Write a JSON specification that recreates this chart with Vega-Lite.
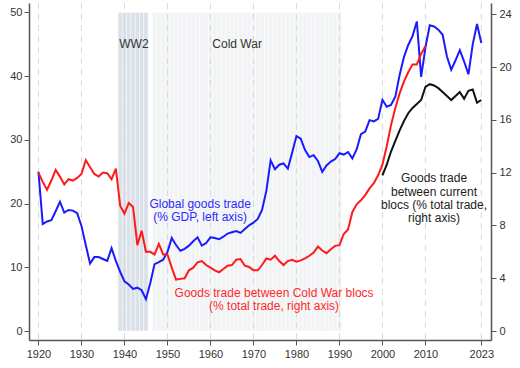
{
  "$schema": "https://vega.github.io/schema/vega-lite/v6.json",
  "width": 462,
  "height": 337,
  "autosize": {"type": "none"},
  "padding": {"left": 29, "top": 3, "right": 29, "bottom": 28},
  "background": "white",
  "config": {
    "view": {"stroke": null},
    "axis": {
      "labelFont": "Liberation Sans",
      "labelFontSize": 11,
      "labelColor": "#333333",
      "domainColor": "#555555",
      "domainWidth": 1.5,
      "tickColor": "#555555",
      "tickSize": 5,
      "tickWidth": 1,
      "grid": false,
      "title": null
    },
    "text": {"font": "Liberation Sans", "fontSize": 12}
  },
  "datasets": {
    "shade": [
      {"period": "WW2", "start": 1938.5, "end": 1939.5},
      {"period": "WW2", "start": 1939.5, "end": 1940.5},
      {"period": "WW2", "start": 1940.5, "end": 1941.5},
      {"period": "WW2", "start": 1941.5, "end": 1942.5},
      {"period": "WW2", "start": 1942.5, "end": 1943.5},
      {"period": "WW2", "start": 1943.5, "end": 1944.5},
      {"period": "WW2", "start": 1944.5, "end": 1945.5},
      {"period": "Cold War", "start": 1946.5, "end": 1947.5},
      {"period": "Cold War", "start": 1947.5, "end": 1948.5},
      {"period": "Cold War", "start": 1948.5, "end": 1949.5},
      {"period": "Cold War", "start": 1949.5, "end": 1950.5},
      {"period": "Cold War", "start": 1950.5, "end": 1951.5},
      {"period": "Cold War", "start": 1951.5, "end": 1952.5},
      {"period": "Cold War", "start": 1952.5, "end": 1953.5},
      {"period": "Cold War", "start": 1953.5, "end": 1954.5},
      {"period": "Cold War", "start": 1954.5, "end": 1955.5},
      {"period": "Cold War", "start": 1955.5, "end": 1956.5},
      {"period": "Cold War", "start": 1956.5, "end": 1957.5},
      {"period": "Cold War", "start": 1957.5, "end": 1958.5},
      {"period": "Cold War", "start": 1958.5, "end": 1959.5},
      {"period": "Cold War", "start": 1959.5, "end": 1960.5},
      {"period": "Cold War", "start": 1960.5, "end": 1961.5},
      {"period": "Cold War", "start": 1961.5, "end": 1962.5},
      {"period": "Cold War", "start": 1962.5, "end": 1963.5},
      {"period": "Cold War", "start": 1963.5, "end": 1964.5},
      {"period": "Cold War", "start": 1964.5, "end": 1965.5},
      {"period": "Cold War", "start": 1965.5, "end": 1966.5},
      {"period": "Cold War", "start": 1966.5, "end": 1967.5},
      {"period": "Cold War", "start": 1967.5, "end": 1968.5},
      {"period": "Cold War", "start": 1968.5, "end": 1969.5},
      {"period": "Cold War", "start": 1969.5, "end": 1970.5},
      {"period": "Cold War", "start": 1970.5, "end": 1971.5},
      {"period": "Cold War", "start": 1971.5, "end": 1972.5},
      {"period": "Cold War", "start": 1972.5, "end": 1973.5},
      {"period": "Cold War", "start": 1973.5, "end": 1974.5},
      {"period": "Cold War", "start": 1974.5, "end": 1975.5},
      {"period": "Cold War", "start": 1975.5, "end": 1976.5},
      {"period": "Cold War", "start": 1976.5, "end": 1977.5},
      {"period": "Cold War", "start": 1977.5, "end": 1978.5},
      {"period": "Cold War", "start": 1978.5, "end": 1979.5},
      {"period": "Cold War", "start": 1979.5, "end": 1980.5},
      {"period": "Cold War", "start": 1980.5, "end": 1981.5},
      {"period": "Cold War", "start": 1981.5, "end": 1982.5},
      {"period": "Cold War", "start": 1982.5, "end": 1983.5},
      {"period": "Cold War", "start": 1983.5, "end": 1984.5},
      {"period": "Cold War", "start": 1984.5, "end": 1985.5},
      {"period": "Cold War", "start": 1985.5, "end": 1986.5},
      {"period": "Cold War", "start": 1986.5, "end": 1987.5},
      {"period": "Cold War", "start": 1987.5, "end": 1988.5},
      {"period": "Cold War", "start": 1988.5, "end": 1989.5},
      {"period": "Cold War", "start": 1989.5, "end": 1990.5}
    ],
    "ticks": [
      {"year": 1920}, {"year": 1930}, {"year": 1940}, {"year": 1950}, {"year": 1960},
      {"year": 1970}, {"year": 1980}, {"year": 1990}, {"year": 2000}, {"year": 2010}, {"year": 2023}
    ],
    "global": [
      {"year": 1920, "value": 25.0}, {"year": 1921, "value": 16.8}, {"year": 1922, "value": 17.2},
      {"year": 1923, "value": 17.4}, {"year": 1924, "value": 18.8}, {"year": 1925, "value": 20.3},
      {"year": 1926, "value": 18.6}, {"year": 1927, "value": 19.0}, {"year": 1928, "value": 18.9},
      {"year": 1929, "value": 18.5}, {"year": 1930, "value": 16.5}, {"year": 1931, "value": 13.5},
      {"year": 1932, "value": 10.6}, {"year": 1933, "value": 11.6}, {"year": 1934, "value": 11.6},
      {"year": 1935, "value": 11.3}, {"year": 1936, "value": 11.0}, {"year": 1937, "value": 13.0},
      {"year": 1938, "value": 11.0}, {"year": 1939, "value": 9.3}, {"year": 1940, "value": 7.8},
      {"year": 1941, "value": 7.3}, {"year": 1942, "value": 6.6}, {"year": 1943, "value": 6.8},
      {"year": 1944, "value": 6.4}, {"year": 1945, "value": 5.0}, {"year": 1946, "value": 7.5},
      {"year": 1947, "value": 10.5}, {"year": 1948, "value": 10.8}, {"year": 1949, "value": 11.2},
      {"year": 1950, "value": 12.4}, {"year": 1951, "value": 14.6}, {"year": 1952, "value": 13.5},
      {"year": 1953, "value": 12.6}, {"year": 1954, "value": 12.9}, {"year": 1955, "value": 13.4},
      {"year": 1956, "value": 14.1}, {"year": 1957, "value": 14.7}, {"year": 1958, "value": 13.4},
      {"year": 1959, "value": 13.8}, {"year": 1960, "value": 14.7}, {"year": 1961, "value": 14.6},
      {"year": 1962, "value": 14.4}, {"year": 1963, "value": 14.8}, {"year": 1964, "value": 15.3},
      {"year": 1965, "value": 15.5}, {"year": 1966, "value": 15.7}, {"year": 1967, "value": 15.4},
      {"year": 1968, "value": 16.0}, {"year": 1969, "value": 16.6}, {"year": 1970, "value": 17.0},
      {"year": 1971, "value": 17.6}, {"year": 1972, "value": 19.0}, {"year": 1973, "value": 22.0},
      {"year": 1974, "value": 26.8}, {"year": 1975, "value": 25.4}, {"year": 1976, "value": 26.1},
      {"year": 1977, "value": 26.3}, {"year": 1978, "value": 25.5}, {"year": 1979, "value": 28.0},
      {"year": 1980, "value": 30.6}, {"year": 1981, "value": 30.2}, {"year": 1982, "value": 28.4},
      {"year": 1983, "value": 27.3}, {"year": 1984, "value": 27.6}, {"year": 1985, "value": 26.7},
      {"year": 1986, "value": 25.0}, {"year": 1987, "value": 26.0}, {"year": 1988, "value": 26.6},
      {"year": 1989, "value": 27.0}, {"year": 1990, "value": 27.9}, {"year": 1991, "value": 27.7},
      {"year": 1992, "value": 28.1}, {"year": 1993, "value": 27.1}, {"year": 1994, "value": 28.5},
      {"year": 1995, "value": 30.9}, {"year": 1996, "value": 31.3}, {"year": 1997, "value": 33.1},
      {"year": 1998, "value": 32.9}, {"year": 1999, "value": 33.3}, {"year": 2000, "value": 36.3},
      {"year": 2001, "value": 35.2}, {"year": 2002, "value": 35.5}, {"year": 2003, "value": 36.8},
      {"year": 2004, "value": 40.2}, {"year": 2005, "value": 43.0}, {"year": 2006, "value": 44.9},
      {"year": 2007, "value": 46.3}, {"year": 2008, "value": 48.6}, {"year": 2009, "value": 39.9},
      {"year": 2010, "value": 44.5}, {"year": 2011, "value": 48.0}, {"year": 2012, "value": 47.8},
      {"year": 2013, "value": 47.3}, {"year": 2014, "value": 46.5}, {"year": 2015, "value": 43.1},
      {"year": 2016, "value": 41.0}, {"year": 2017, "value": 42.5}, {"year": 2018, "value": 44.1},
      {"year": 2019, "value": 42.3}, {"year": 2020, "value": 40.3}, {"year": 2021, "value": 45.0},
      {"year": 2022, "value": 48.2}, {"year": 2023, "value": 45.2}
    ],
    "blocs": [
      {"series": "cold", "year": 1920, "value": 12.0}, {"series": "cold", "year": 1921, "value": 11.3},
      {"series": "cold", "year": 1922, "value": 10.7}, {"series": "cold", "year": 1923, "value": 11.4},
      {"series": "cold", "year": 1924, "value": 12.2}, {"series": "cold", "year": 1925, "value": 11.7},
      {"series": "cold", "year": 1926, "value": 11.1}, {"series": "cold", "year": 1927, "value": 11.5},
      {"series": "cold", "year": 1928, "value": 11.4}, {"series": "cold", "year": 1929, "value": 11.6},
      {"series": "cold", "year": 1930, "value": 11.9}, {"series": "cold", "year": 1931, "value": 12.95},
      {"series": "cold", "year": 1932, "value": 12.4}, {"series": "cold", "year": 1933, "value": 11.9},
      {"series": "cold", "year": 1934, "value": 11.7}, {"series": "cold", "year": 1935, "value": 12.0},
      {"series": "cold", "year": 1936, "value": 11.95}, {"series": "cold", "year": 1937, "value": 11.5},
      {"series": "cold", "year": 1938, "value": 12.3}, {"series": "cold", "year": 1939, "value": 9.5},
      {"series": "cold", "year": 1940, "value": 8.9}, {"series": "cold", "year": 1941, "value": 9.7},
      {"series": "cold", "year": 1942, "value": 9.4}, {"series": "cold", "year": 1943, "value": 6.5},
      {"series": "cold", "year": 1944, "value": 7.6}, {"series": "cold", "year": 1945, "value": 6.0},
      {"series": "cold", "year": 1946, "value": 6.0}, {"series": "cold", "year": 1947, "value": 5.8},
      {"series": "cold", "year": 1948, "value": 6.6}, {"series": "cold", "year": 1949, "value": 5.8},
      {"series": "cold", "year": 1950, "value": 5.8}, {"series": "cold", "year": 1951, "value": 4.8},
      {"series": "cold", "year": 1952, "value": 3.9}, {"series": "cold", "year": 1953, "value": 3.95},
      {"series": "cold", "year": 1954, "value": 4.0}, {"series": "cold", "year": 1955, "value": 4.6},
      {"series": "cold", "year": 1956, "value": 4.8}, {"series": "cold", "year": 1957, "value": 5.2},
      {"series": "cold", "year": 1958, "value": 5.3}, {"series": "cold", "year": 1959, "value": 5.0},
      {"series": "cold", "year": 1960, "value": 4.8}, {"series": "cold", "year": 1961, "value": 4.6},
      {"series": "cold", "year": 1962, "value": 4.45}, {"series": "cold", "year": 1963, "value": 4.7},
      {"series": "cold", "year": 1964, "value": 4.95}, {"series": "cold", "year": 1965, "value": 5.0},
      {"series": "cold", "year": 1966, "value": 5.4}, {"series": "cold", "year": 1967, "value": 5.45},
      {"series": "cold", "year": 1968, "value": 4.95}, {"series": "cold", "year": 1969, "value": 4.85},
      {"series": "cold", "year": 1970, "value": 4.6}, {"series": "cold", "year": 1971, "value": 4.6},
      {"series": "cold", "year": 1972, "value": 5.0}, {"series": "cold", "year": 1973, "value": 5.5},
      {"series": "cold", "year": 1974, "value": 5.4}, {"series": "cold", "year": 1975, "value": 5.7},
      {"series": "cold", "year": 1976, "value": 5.3}, {"series": "cold", "year": 1977, "value": 5.0},
      {"series": "cold", "year": 1978, "value": 5.3}, {"series": "cold", "year": 1979, "value": 5.4},
      {"series": "cold", "year": 1980, "value": 5.25}, {"series": "cold", "year": 1981, "value": 5.35},
      {"series": "cold", "year": 1982, "value": 5.5}, {"series": "cold", "year": 1983, "value": 5.7},
      {"series": "cold", "year": 1984, "value": 5.95}, {"series": "cold", "year": 1985, "value": 6.4},
      {"series": "cold", "year": 1986, "value": 6.1}, {"series": "cold", "year": 1987, "value": 5.9},
      {"series": "cold", "year": 1988, "value": 6.2}, {"series": "cold", "year": 1989, "value": 6.45},
      {"series": "cold", "year": 1990, "value": 6.5}, {"series": "cold", "year": 1991, "value": 7.35},
      {"series": "cold", "year": 1992, "value": 7.7}, {"series": "cold", "year": 1993, "value": 9.0},
      {"series": "cold", "year": 1994, "value": 9.6}, {"series": "cold", "year": 1995, "value": 9.9},
      {"series": "cold", "year": 1996, "value": 10.3}, {"series": "cold", "year": 1997, "value": 10.8},
      {"series": "cold", "year": 1998, "value": 11.2}, {"series": "cold", "year": 1999, "value": 11.8},
      {"series": "cold", "year": 2000, "value": 12.6}, {"series": "cold", "year": 2001, "value": 14.0},
      {"series": "cold", "year": 2002, "value": 15.6}, {"series": "cold", "year": 2003, "value": 16.9},
      {"series": "cold", "year": 2004, "value": 18.0}, {"series": "cold", "year": 2005, "value": 18.9},
      {"series": "cold", "year": 2006, "value": 19.6}, {"series": "cold", "year": 2007, "value": 20.2},
      {"series": "cold", "year": 2008, "value": 20.2}, {"series": "cold", "year": 2009, "value": 21.0},
      {"series": "cold", "year": 2010, "value": 21.6},
      {"series": "current", "year": 2000, "value": 11.8}, {"series": "current", "year": 2001, "value": 12.6},
      {"series": "current", "year": 2002, "value": 13.6}, {"series": "current", "year": 2003, "value": 14.4},
      {"series": "current", "year": 2004, "value": 15.2}, {"series": "current", "year": 2005, "value": 15.9},
      {"series": "current", "year": 2006, "value": 16.5}, {"series": "current", "year": 2007, "value": 16.9},
      {"series": "current", "year": 2008, "value": 17.2}, {"series": "current", "year": 2009, "value": 17.5},
      {"series": "current", "year": 2010, "value": 18.5}, {"series": "current", "year": 2011, "value": 18.7},
      {"series": "current", "year": 2012, "value": 18.6}, {"series": "current", "year": 2013, "value": 18.4},
      {"series": "current", "year": 2014, "value": 18.1}, {"series": "current", "year": 2015, "value": 17.8},
      {"series": "current", "year": 2016, "value": 17.5}, {"series": "current", "year": 2017, "value": 17.8},
      {"series": "current", "year": 2018, "value": 18.1}, {"series": "current", "year": 2019, "value": 17.6},
      {"series": "current", "year": 2020, "value": 18.2}, {"series": "current", "year": 2021, "value": 18.3},
      {"series": "current", "year": 2022, "value": 17.3}, {"series": "current", "year": 2023, "value": 17.5}
    ]
  },
  "layer": [
    {
      "layer": [
        {
          "data": {"name": "shade"},
          "mark": {"type": "rect", "stroke": "white", "strokeWidth": 0.6, "strokeOpacity": 0.7},
          "encoding": {
            "x": {"field": "start", "type": "quantitative", "scale": {"domain": [1917.8, 2025.25], "nice": false, "zero": false},
              "axis": {"values": [1920, 1930, 1940, 1950, 1960, 1970, 1980, 1990, 2000, 2010, 2023], "format": "d", "labelPadding": 3}},
            "x2": {"field": "end"},
            "y": {"datum": 0, "type": "quantitative", "scale": {"domain": [-1.41, 51.49], "nice": false, "zero": false},
              "axis": {"values": [0, 10, 20, 30, 40, 50], "labelPadding": 2}},
            "y2": {"datum": 50},
            "color": {"field": "period", "type": "nominal", "scale": {"domain": ["WW2", "Cold War"], "range": ["#dbe1e9", "#f2f3f5"]}, "legend": null}
          }
        },
        {
          "data": {"name": "ticks"},
          "mark": {"type": "rule", "color": "#d9d9d9", "strokeWidth": 1, "strokeDash": [6, 5]},
          "encoding": {"x": {"field": "year", "type": "quantitative"}}
        },
        {
          "data": {"values": [
            {"year": 1942.2, "value": 45.0, "label": "WW2"},
            {"year": 1966.2, "value": 45.0, "label": "Cold War"}
          ]},
          "mark": {"type": "text", "color": "#333333", "baseline": "middle", "align": "center"},
          "encoding": {
            "x": {"field": "year", "type": "quantitative"},
            "y": {"field": "value", "type": "quantitative"},
            "text": {"field": "label"}
          }
        },
        {
          "data": {"values": [
            {"year": 1957.6, "value": 19.94, "label": ["Global goods trade", "(% GDP, left axis)"]}
          ]},
          "mark": {"type": "text", "color": "#2b2bff", "baseline": "middle", "align": "center", "lineHeight": 13.3},
          "encoding": {
            "x": {"field": "year", "type": "quantitative"},
            "y": {"field": "value", "type": "quantitative"},
            "text": {"field": "label"}
          }
        },
        {
          "data": {"name": "global"},
          "mark": {"type": "line", "color": "#1a1aff", "strokeWidth": 2},
          "encoding": {
            "x": {"field": "year", "type": "quantitative"},
            "y": {"field": "value", "type": "quantitative"}
          }
        }
      ]
    },
    {
      "layer": [
        {
          "data": {"name": "blocs"},
          "mark": {"type": "line", "strokeWidth": 2},
          "encoding": {
            "x": {"field": "year", "type": "quantitative"},
            "y": {"field": "value", "type": "quantitative", "scale": {"domain": [-0.68, 24.85], "nice": false, "zero": false},
              "axis": {"orient": "right", "values": [0, 4, 8, 12, 16, 20, 24], "labelPadding": 3}},
            "color": {"field": "series", "type": "nominal", "scale": {"domain": ["cold", "current"], "range": ["#ff1a1a", "#111111"]}, "legend": null}
          }
        },
        {
          "data": {"values": [
            {"year": 1974.8, "value": 2.88, "label": ["Goods trade between Cold War blocs", "(% total trade, right axis)"]}
          ]},
          "mark": {"type": "text", "color": "#ff2a2a", "baseline": "middle", "align": "center", "lineHeight": 13.3},
          "encoding": {
            "x": {"field": "year", "type": "quantitative"},
            "y": {"field": "value", "type": "quantitative"},
            "text": {"field": "label"}
          }
        },
        {
          "data": {"values": [
            {"year": 2012.0, "value": 11.57, "label": ["Goods trade", "between current", "blocs (% total trade,", "right axis)"]}
          ]},
          "mark": {"type": "text", "color": "#222222", "baseline": "middle", "align": "center", "lineHeight": 13.3},
          "encoding": {
            "x": {"field": "year", "type": "quantitative"},
            "y": {"field": "value", "type": "quantitative"},
            "text": {"field": "label"}
          }
        }
      ]
    }
  ],
  "resolve": {"scale": {"y": "independent", "color": "independent"}}
}
